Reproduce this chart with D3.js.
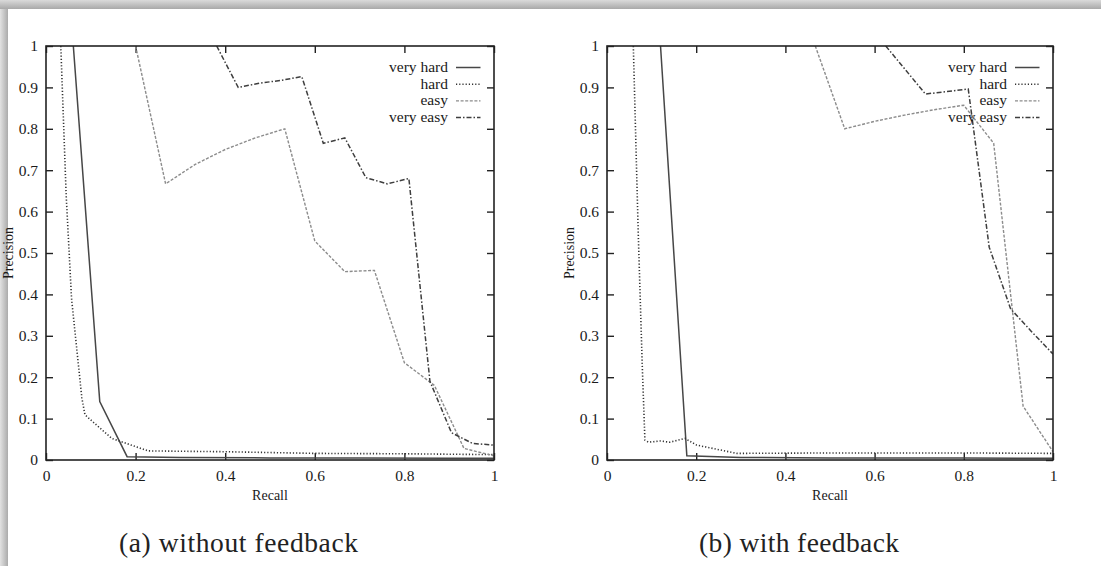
<!DOCTYPE html>
<html><head><meta charset="utf-8">
<script src="https://cdn.jsdelivr.net/npm/d3@7"></script>
<style>html,body{margin:0;padding:0;background:#fff;} svg{display:block} text{font-family:"Liberation Serif","Tinos","Times New Roman","DejaVu Serif",serif;}</style>
</head><body>
<script>
// ---- data ----
const recallTicks = [0, 0.2, 0.4, 0.6, 0.8, 1];
const precisionTicks = [0, 0.1, 0.2, 0.3, 0.4, 0.5, 0.6, 0.7, 0.8, 0.9, 1];
const seriesNames = ["very hard", "hard", "easy", "very easy"];
const captions = ["(a) without feedback", "(b) with feedback"];
const xTitle = "Recall";
const yTitle = "Precision";

// panel (a) without feedback: [recall, precision]
const aVeryHard = [[0.061,1.0],[0.12,0.141],[0.181,0.008],[0.3,0.006],[0.5,0.005],[0.7,0.005],[0.9,0.004],[1.0,0.004]];
const aHard = [[0.033,1.0],[0.045,0.64],[0.057,0.39],[0.08,0.15],[0.087,0.109],[0.147,0.052],[0.228,0.022],[0.4,0.02],[0.6,0.016],[0.8,0.015],[1.0,0.013]];
const aEasy = [[0.2,1.0],[0.267,0.667],[0.333,0.714],[0.4,0.75],[0.467,0.778],[0.533,0.8],[0.6,0.529],[0.667,0.455],[0.733,0.458],[0.8,0.235],[0.867,0.18],[0.933,0.028],[1.0,0.01]];
const aVeryEasy = [[0.381,1.0],[0.429,0.9],[0.476,0.91],[0.524,0.917],[0.571,0.926],[0.619,0.765],[0.667,0.778],[0.714,0.682],[0.762,0.667],[0.81,0.68],[0.857,0.19],[0.905,0.066],[0.952,0.04],[1.0,0.036]];

// panel (b) with feedback
const bVeryHard = [[0.12,1.0],[0.179,0.01],[0.3,0.006],[0.5,0.005],[0.8,0.005],[1.0,0.004]];
const bHard = [[0.059,1.0],[0.07,0.55],[0.079,0.23],[0.085,0.048],[0.093,0.043],[0.12,0.046],[0.141,0.043],[0.175,0.052],[0.201,0.036],[0.291,0.016],[0.5,0.017],[0.8,0.017],[1.0,0.016]];
const bEasy = [[0.467,1.0],[0.533,0.8],[0.6,0.818],[0.667,0.833],[0.733,0.846],[0.8,0.857],[0.867,0.765],[0.933,0.13],[1.0,0.02]];
const bVeryEasy = [[0.625,1.0],[0.714,0.884],[0.762,0.89],[0.81,0.896],[0.857,0.514],[0.905,0.365],[0.952,0.31],[1.0,0.256]];

// ---- drawing ----
const W = 1101, H = 566;
const svg = d3.select("body").append("svg").attr("width", W).attr("height", H);
const defs = svg.append("defs");
const gTop = defs.append("linearGradient").attr("id","gTop").attr("x1",0).attr("y1",0).attr("x2",0).attr("y2",1);
gTop.append("stop").attr("offset","0%").attr("stop-color","#dadada");
gTop.append("stop").attr("offset","100%").attr("stop-color","#a9a9a9");
const gLeft = defs.append("linearGradient").attr("id","gLeft").attr("x1",0).attr("y1",0).attr("x2",1).attr("y2",0);
gLeft.append("stop").attr("offset","0%").attr("stop-color","#e2e2e2");
gLeft.append("stop").attr("offset","100%").attr("stop-color","#ababab");

svg.append("rect").attr("x",0).attr("y",0).attr("width",W).attr("height",H).attr("fill","#fff");
svg.append("rect").attr("x",0).attr("y",0).attr("width",8).attr("height",H).attr("fill","url(#gLeft)");
svg.append("rect").attr("x",0).attr("y",0).attr("width",W).attr("height",9).attr("fill","url(#gTop)");

const styles = [
  {stroke:"#474747", dash:null, w:1.5},
  {stroke:"#333333", dash:"1.2,2", w:1.6},
  {stroke:"#8c8c8c", dash:"3,1.6", w:1.4},
  {stroke:"#3e3e3e", dash:"5,2,1.5,2", w:1.5}
];

function panel(idx, left, right, top, bottom, series, caption, capX, capW) {
  const x = d3.scaleLinear().domain([0,1]).range([left,right]);
  const y = d3.scaleLinear().domain([0,1]).range([bottom,top]);
  const g = svg.append("g");
  const clipId = "clip"+idx;
  defs.append("clipPath").attr("id",clipId).append("rect")
    .attr("x",left).attr("y",top).attr("width",right-left).attr("height",bottom-top);

  const fmt = d => String(d);
  const styleAxis = a => {
    a.attr("font-family",null);
    a.select(".domain").remove();
    a.selectAll(".tick line").attr("stroke","#222").attr("stroke-width",1.4);
    a.selectAll("text").attr("font-size",15.5).attr("fill","#1a1a1a");
  };
  g.append("g").attr("transform",`translate(${left},0)`)
    .call(d3.axisLeft(y).tickValues(precisionTicks).tickSize(-7).tickPadding(8).tickFormat(fmt)).call(styleAxis);
  g.append("g").attr("transform",`translate(${right},0)`)
    .call(d3.axisRight(y).tickValues(precisionTicks).tickSize(-7).tickFormat("")).call(styleAxis);
  g.append("g").attr("transform",`translate(0,${bottom})`)
    .call(d3.axisBottom(x).tickValues(recallTicks).tickSize(-7).tickPadding(10).tickFormat(fmt)).call(styleAxis);
  g.append("g").attr("transform",`translate(0,${top})`)
    .call(d3.axisTop(x).tickValues(recallTicks).tickSize(-7).tickFormat("")).call(styleAxis);

  const line = d3.line().x(d => x(d[0])).y(d => y(d[1]));
  const lg = g.append("g").attr("clip-path",`url(#${clipId})`);
  series.forEach((s,i) => {
    lg.append("path").attr("d", line(s)).attr("fill","none")
      .attr("stroke",styles[i].stroke).attr("stroke-width",styles[i].w)
      .attr("stroke-dasharray",styles[i].dash);
  });

  g.append("rect").attr("x",left).attr("y",top).attr("width",right-left).attr("height",bottom-top)
    .attr("fill","none").attr("stroke","#222").attr("stroke-width",1.6);

  // legend
  seriesNames.forEach((n,i) => {
    const ly = top + 21.5 + i*16.7;
    g.append("text").attr("x", right-46).attr("y", ly+4.5).attr("text-anchor","end")
      .attr("font-size",15.5).attr("fill","#1a1a1a").text(n);
    g.append("line").attr("x1",right-38).attr("x2",right-13.5).attr("y1",ly).attr("y2",ly)
      .attr("stroke",styles[i].stroke).attr("stroke-width",styles[i].w).attr("stroke-dasharray",styles[i].dash);
  });

  g.append("text").attr("x",(left+right)/2).attr("y",bottom+40).attr("text-anchor","middle")
    .attr("font-size",14).attr("fill","#1a1a1a").text(xTitle);
  g.append("text").attr("transform",`translate(${left-33},${(top+bottom)/2}) rotate(-90)`)
    .attr("text-anchor","middle").attr("font-size",14).attr("fill","#1a1a1a").text(yTitle);

  g.append("text").attr("x",capX).attr("y",552).attr("font-size",27.5)
    .attr("fill","#222").attr("textLength",capW).attr("lengthAdjust","spacing").text(caption);
}

panel(0, 46, 494, 46, 460, [aVeryHard,aHard,aEasy,aVeryEasy], captions[0], 119, 239);
panel(1, 607, 1053, 46, 460, [bVeryHard,bHard,bEasy,bVeryEasy], captions[1], 699, 200);
</script>
</body></html>
